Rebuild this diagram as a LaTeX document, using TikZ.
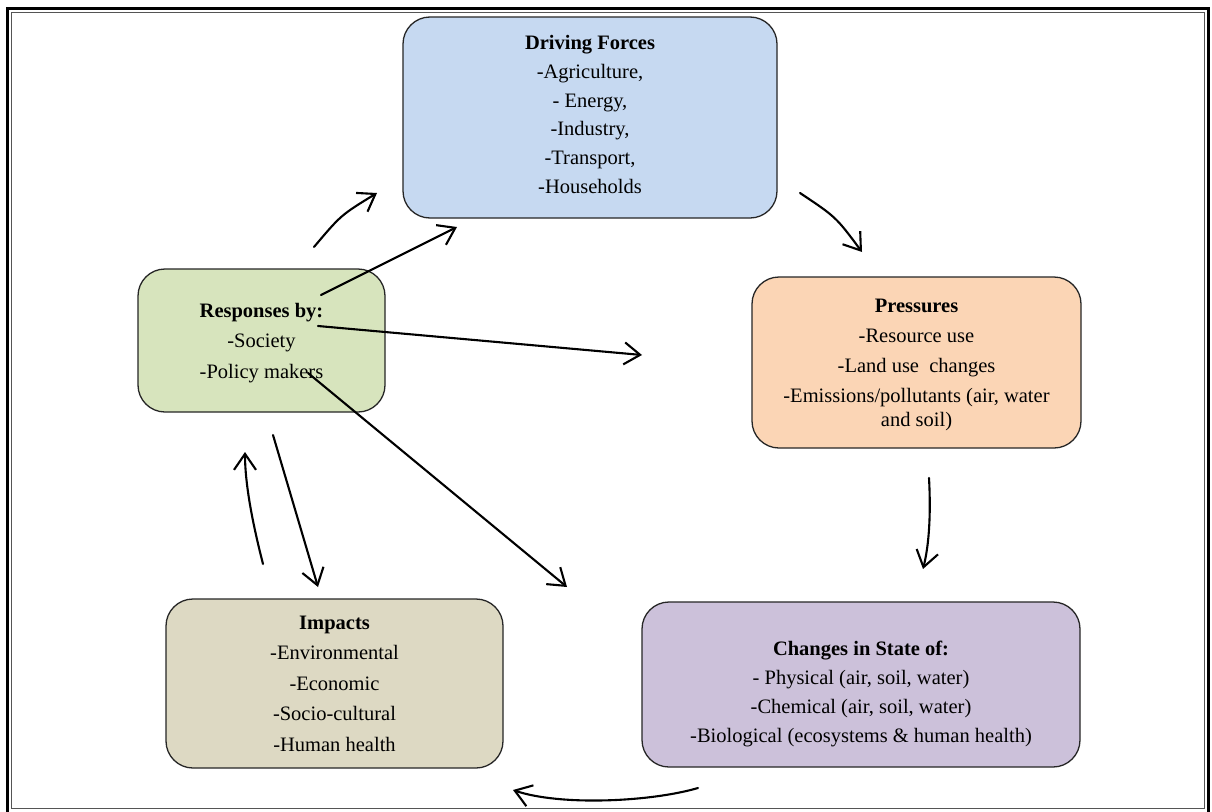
\documentclass[tikz,border=0pt]{standalone}
\usepackage{fontspec}
\setmainfont{Liberation Serif}
\usetikzlibrary{arrows.meta}
\definecolor{dfblue}{HTML}{C6D9F1}
\definecolor{prorange}{HTML}{FBD5B5}
\definecolor{regreen}{HTML}{D7E4BD}
\definecolor{imtan}{HTML}{DDD9C3}
\definecolor{stpurple}{HTML}{CCC1DA}
\definecolor{framegray}{HTML}{555555}
\begin{document}
\begin{tikzpicture}[x=1pt,y=-1pt,
  box/.style={draw=black!85, line width=1.3pt, rounded corners=27pt, inner sep=0pt},
  txt/.style={align=center, inner sep=0pt, anchor=north, font=\fontsize{20.5}{28.8}\selectfont},
  conn/.style={line width=2.1pt, line cap=round, -{Straight Barb[length=16pt,width=22pt]}}]
\useasboundingbox (0,0) rectangle (1212,811);
\fill[white] (0,0) rectangle (1212,811);
% frame
\draw[line width=3pt, black] (7.5,8.5) rectangle (1208.5,818);
\draw[line width=1.2pt, framegray] (11.5,12.5) rectangle (1204.5,808.5);
% boxes
\node[box, fill=dfblue, minimum width=374pt, minimum height=201pt] (df) at (590,117.5) {};
\node[box, fill=prorange, minimum width=329pt, minimum height=171pt] (pr) at (916.5,362.5) {};
\node[box, fill=regreen, minimum width=247pt, minimum height=143pt] (re) at (261.5,340.5) {};
\node[box, fill=imtan, minimum width=337pt, minimum height=169pt] (im) at (334.5,683.5) {};
\node[box, fill=stpurple, minimum width=438pt, minimum height=165pt] (st) at (861,684.5) {};
% texts
\node[txt] (dft) at (590,35) {\textbf{Driving Forces}\\-Agriculture,\\- Energy,\\-Industry,\\-Transport,\\-Households};
\node[txt, font=\fontsize{20.5}{23.5}\selectfont] (prt) at (916.5,298.5) {\textbf{Pressures}\\[6.5pt]-Resource use\\[6.5pt]-Land use\ \ changes\\[7pt]-Emissions/pollutants (air, water\\and soil)};
\node[txt, font=\fontsize{20.5}{30.5}\selectfont] (ret) at (261.5,303) {\textbf{Responses by:}\\-Society\\-Policy makers};
\node[txt, font=\fontsize{20.5}{30.5}\selectfont] (imt) at (334.5,615.5) {\textbf{Impacts}\\-Environmental\\-Economic\\-Socio-cultural\\-Human health};
\node[txt, font=\fontsize{20.5}{29}\selectfont] (stt) at (861,641) {\textbf{Changes in State of:}\\- Physical (air, soil, water)\\-Chemical (air, soil, water)\\-Biological (ecosystems \& human health)};
% connector end points
\coordinate (a1s) at (314,247);
\coordinate (a1e) at (377,193);
\coordinate (a2s) at (321,295);
\coordinate (a2e) at (457,227);
\coordinate (a3s) at (800,193);
\coordinate (a3e) at (862,252);
\coordinate (a4s) at (318,326);
\coordinate (a4e) at (642,355);
\coordinate (a5s) at (308,373);
\coordinate (a5e) at (567,587);
\coordinate (a6s) at (929,478);
\coordinate (a6e) at (923,569);
\coordinate (a7s) at (273,435);
\coordinate (a7e) at (318,587);
\coordinate (a8s) at (263,564);
\coordinate (a8e) at (245,452);
\coordinate (a9s) at (698,788);
\coordinate (a9e) at (513,790);
% connectors
\draw[conn] (a1s) .. controls (341,215) .. (a1e);
\draw[conn] (a2s) -- (a2e);
\draw[conn] (a3s) .. controls (836,217) .. (a3e);
\draw[conn] (a4s) -- (a4e);
\draw[conn] (a5s) -- (a5e);
\draw[conn] (a6s) .. controls (931,515) and (929,545) .. (a6e);
\draw[conn] (a7s) -- (a7e);
\draw[conn] (a8s) .. controls (253,525) and (245,485) .. (a8e);
\draw[conn] (a9s) .. controls (650,802) and (560,806) .. (a9e);
\end{tikzpicture}
\end{document}
